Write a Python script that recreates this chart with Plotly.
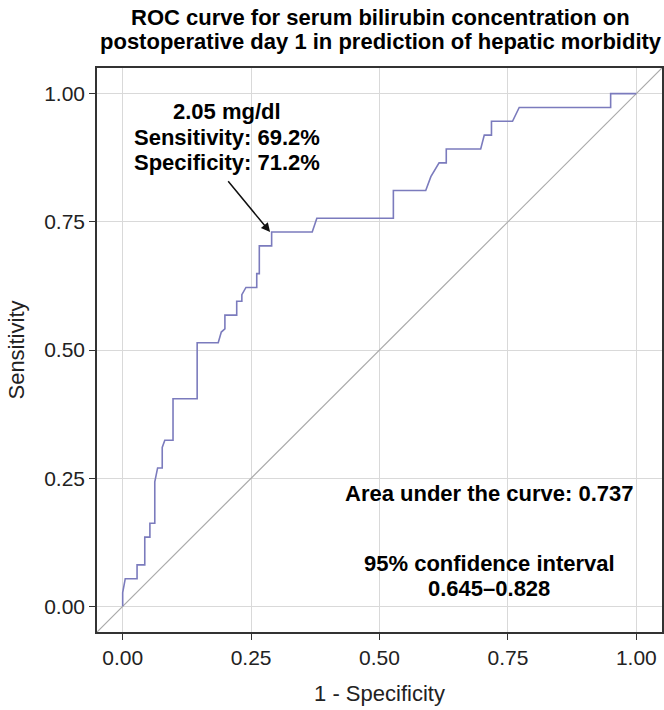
import plotly.graph_objects as go

# ROC curve path (1 - specificity, sensitivity)
fpr = [0.0, 0.0, 0.005, 0.028, 0.028, 0.043, 0.043, 0.053, 0.053, 0.0625, 0.0625,
       0.068, 0.077, 0.077, 0.082, 0.098, 0.098, 0.145, 0.145, 0.186, 0.192, 0.199,
       0.199, 0.222, 0.222, 0.232, 0.232, 0.240, 0.261, 0.261, 0.266, 0.266, 0.290,
       0.290, 0.369, 0.378, 0.527, 0.527, 0.590, 0.600, 0.616, 0.630, 0.630, 0.697,
       0.704, 0.718, 0.718, 0.759, 0.772, 0.950, 0.950, 1.0]
tpr = [0.0, 0.027, 0.054, 0.054, 0.081, 0.081, 0.135, 0.135, 0.162, 0.162, 0.243,
       0.270, 0.270, 0.310, 0.324, 0.324, 0.405, 0.405, 0.514, 0.514, 0.535, 0.541,
       0.568, 0.568, 0.595, 0.595, 0.608, 0.622, 0.622, 0.649, 0.649, 0.703, 0.703,
       0.730, 0.730, 0.757, 0.757, 0.811, 0.811, 0.838, 0.865, 0.865, 0.892, 0.892,
       0.919, 0.919, 0.946, 0.946, 0.973, 0.973, 1.0, 1.0]

ref_line = [-0.05, 1.05]
tick_vals = [0.0, 0.25, 0.5, 0.75, 1.0]
tick_text = ["0.00", "0.25", "0.50", "0.75", "1.00"]

title_lines = ["ROC curve for serum bilirubin concentration on",
               "postoperative day 1 in prediction of hepatic morbidity"]
title_y = [1.0904, 1.0461]
cutoff_lines = ["2.05 mg/dl", "Sensitivity: 69.2%", "Specificity: 71.2%"]
cutoff_text_x = 0.203
cutoff_text_y = [0.965, 0.914, 0.865]
cutoff_point = (0.287, 0.730)
cutoff_tail = (0.203, 0.832)
auc_lines = ["Area under the curve: 0.737", "95% confidence interval", "0.645\u20130.828"]
auc_text_x = 0.714
auc_text_y = [0.221, 0.084, 0.035]

FONT = "Liberation Sans, Arial, Helvetica, sans-serif"

fig = go.Figure()
fig.add_trace(go.Scatter(x=ref_line, y=ref_line, mode="lines",
                         line=dict(color="#aaaaaa", width=1.2),
                         hoverinfo="skip", showlegend=False))
fig.add_trace(go.Scatter(x=fpr, y=tpr, mode="lines",
                         line=dict(color="#7b7bbd", width=1.6),
                         showlegend=False))

for s, yy in zip(title_lines, title_y):
    fig.add_annotation(x=0.502, y=yy, xref="paper", yref="paper",
                       text="<b>%s</b>" % s, showarrow=False,
                       xanchor="center", yanchor="middle",
                       font=dict(family=FONT, size=22, color="black"))

for s, yy in zip(cutoff_lines, cutoff_text_y):
    fig.add_annotation(x=cutoff_text_x, y=yy, xref="x", yref="y",
                       text="<b>%s</b>" % s, showarrow=False,
                       xanchor="center", yanchor="middle",
                       font=dict(family=FONT, size=22, color="black"))

fig.add_annotation(x=cutoff_point[0], y=cutoff_point[1], xref="x", yref="y",
                   ax=cutoff_tail[0], ay=cutoff_tail[1], axref="x", ayref="y",
                   text="", showarrow=True, arrowhead=2, arrowsize=1.2,
                   arrowwidth=1.5, arrowcolor="#111111")

for s, yy in zip(auc_lines, auc_text_y):
    fig.add_annotation(x=auc_text_x, y=yy, xref="x", yref="y",
                       text="<b>%s</b>" % s, showarrow=False,
                       xanchor="center", yanchor="middle",
                       font=dict(family=FONT, size=22, color="black"))

axis_common = dict(range=[-0.05, 1.05], tickvals=tick_vals, ticktext=tick_text,
                   showgrid=True, gridcolor="#d9d9d9", gridwidth=1.3,
                   zeroline=False, showline=True, mirror=True,
                   linecolor="#333333", linewidth=1.5,
                   ticks="outside", ticklen=6, tickcolor="#333333", tickwidth=1.2,
                   automargin=False,
                   tickfont=dict(family=FONT, size=21, color="#222222"))

fig.update_layout(
    width=664, height=710,
    margin=dict(l=97, r=2, t=68, b=78),
    paper_bgcolor="white", plot_bgcolor="white",
    xaxis=dict(axis_common, title=dict(text="1 - Specificity", standoff=18,
                                       font=dict(family=FONT, size=22, color="#222222"))),
    yaxis=dict(axis_common, title=dict(text="Sensitivity", standoff=13,
                                       font=dict(family=FONT, size=22, color="#222222"))),
)

fig.write_html("out.html",
               config={"displayModeBar": False},
               post_script="document.body.style.margin='0';"
                           "document.body.style.overflow='hidden';")
